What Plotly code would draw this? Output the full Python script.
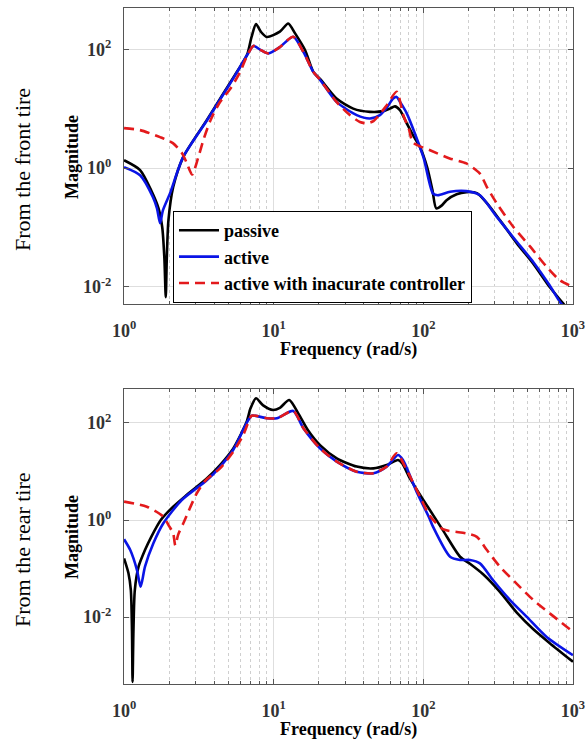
import plotly.graph_objects as go

# ---------------- data: top panel (from the front tire) ----------------
top_passive_f = [1.0, 1.28, 1.52, 1.70, 1.80, 1.86, 1.90, 1.93, 1.98, 2.13, 2.49, 3.57, 4.5, 5.5, 6.63,
                 7.1, 7.62, 8.2, 9.0, 11.0, 12.5, 13.9, 16.2, 18.4, 20.4, 26.3, 34.0, 44.0, 53.9, 59.8,
                 64.6, 69.8, 77.5, 85.3, 95, 106, 115, 122, 133, 143, 167, 194, 228, 266, 325, 422,
                 540, 701, 857, 1000]
top_passive_m = [1.36, 0.93, 0.42, 0.21, 0.10, 0.03, 0.0067, 0.03, 0.133, 0.48, 1.55, 6.45, 16.5, 37, 80.5,
                 160, 268, 200, 163, 200, 275, 187, 98, 42, 32, 14.9, 10.1, 8.9, 9.15, 10.1,
                 11.0, 9.5, 5.7, 3.6, 2.26, 1.04, 0.43, 0.21, 0.236, 0.289, 0.364, 0.394, 0.379, 0.257, 0.133, 0.054,
                 0.025, 0.0098, 0.0053, 0.0032]

top_active_f = [1.0, 1.28, 1.56, 1.66, 1.74, 1.82, 2.03, 2.48, 3.57, 4.5, 5.5, 6.63, 7.32, 8.2, 9.22,
                11.0, 13.5, 15.8, 18.4, 20.4, 26.3, 35.9, 44, 51.3, 57, 62.9, 66.3, 70, 77.5, 100,
                116, 125, 151, 194, 239, 310, 420, 544, 700, 817, 1000]
top_active_m = [1.04, 0.76, 0.324, 0.21, 0.118, 0.196, 0.379, 1.53, 6.3, 16, 36, 80, 115, 98, 86,
                110, 164, 91, 42, 31, 13.1, 7.83, 6.88, 7.83, 10.5, 14.9, 15.9, 13, 8.4, 1.55,
                0.374, 0.35, 0.40, 0.41, 0.35, 0.151, 0.058, 0.026, 0.0105, 0.0056, 0.003]

top_inacc_f = [1.0, 1.28, 1.74, 2.12, 2.44, 2.63, 2.85, 3.12, 3.42, 3.81, 4.38, 5.11, 5.96, 6.63, 7.32,
               8.2, 9.22, 11.0, 13.5, 15.8, 18.4, 20.4, 26.3, 32, 37.7, 42, 46.4, 57, 66.3, 73.5,
               80, 85.5, 111, 150, 194, 239, 266, 310, 400, 520, 667, 817, 1000]
top_inacc_m = [4.73, 4.38, 3.33, 2.64, 1.79, 1.21, 0.78, 1.47, 3.2, 6.7, 13, 21.5, 41.6, 78, 115,
               98, 86, 110, 164, 91, 42, 31, 13.1, 8.0, 6.0, 5.7, 6.2, 11.5, 19.4, 7.8,
               4.6, 2.7, 2.0, 1.46, 1.2, 0.81, 0.48, 0.254, 0.102, 0.047, 0.0217, 0.0129, 0.01]

# ---------------- data: bottom panel (from the rear tire) ----------------
bot_passive_f = [1.0, 1.07, 1.11, 1.13, 1.14, 1.155, 1.18, 1.25, 1.38, 1.52, 1.76, 2.13, 2.62, 3.57, 4.38,
                 5.37, 6.6, 7.0, 7.62, 8.5, 9.9, 11.0, 12.7, 14.6, 17, 20.4, 26.4, 35.9, 46.4, 56.9,
                 67.8, 72, 81.4, 100, 110, 135, 176, 205, 251, 325, 420, 544, 700, 1000]
bot_passive_m = [0.162, 0.08, 0.036, 0.005, 0.00046, 0.005, 0.036, 0.109, 0.24, 0.45, 1.0, 1.88, 3.28, 7.2, 13.6,
                 30, 106, 200, 323, 230, 185, 205, 298, 158, 70, 35, 18.7, 12.6, 11.6, 13.6,
                 17.3, 15, 7.2, 2.58, 1.65, 0.62, 0.175, 0.125, 0.076, 0.033, 0.0125, 0.0056, 0.0029, 0.0012]

bot_active_f = [1.0, 1.10, 1.22, 1.29, 1.38, 1.57, 1.83, 2.43, 3.57, 4.38, 5.37, 6.6, 7.13, 9.0, 10.5,
                13.5, 15.8, 20.4, 26.4, 35.9, 46.4, 56.9, 67.8, 73.1, 90.3, 110, 116, 151, 176, 205,
                239, 292, 380, 490, 667, 1000]
bot_active_m = [0.40, 0.24, 0.093, 0.042, 0.109, 0.33, 0.855, 2.58, 6.6, 12.5, 28, 100, 141, 125, 125,
                177, 78, 30, 16, 9.9, 9.2, 12.6, 21.9, 17.3, 3.8, 1.08, 0.73, 0.175, 0.15, 0.15,
                0.128, 0.058, 0.0224, 0.0102, 0.0039, 0.00164]

bot_inacc_f = [1.0, 1.42, 1.83, 2.0, 2.13, 2.2, 2.3, 2.49, 3.06, 3.5, 4.38, 5.37, 6.26, 6.7, 7.13,
               9.0, 10.5, 13.5, 15.8, 20.4, 26.4, 35.9, 46.4, 56.9, 66.3, 77.5, 95, 110, 135, 194,
               228, 266, 325, 420, 544, 700, 1000]
bot_inacc_m = [2.39, 1.88, 1.17, 0.75, 0.53, 0.30, 0.5, 0.855, 3.55, 6.5, 11.6, 25.5, 56.7, 95, 141,
               125, 125, 177, 78, 30, 16, 9.9, 9.2, 12.6, 23.7, 10.7, 3.03, 1.25, 0.65, 0.53,
               0.45, 0.24, 0.109, 0.049, 0.0224, 0.0119, 0.005]

series_names = ["passive", "active", "active with inacurate controller"]
x_tick_vals = [1, 10, 100, 1000]
x_tick_text = ["10<sup>0</sup>", "10<sup>1</sup>", "10<sup>2</sup>", "10<sup>3</sup>"]
x_minor_vals = [2, 3, 4, 5, 6, 7, 8, 9, 20, 30, 40, 50, 60, 70, 80, 90,
                200, 300, 400, 500, 600, 700, 800, 900]
y_tick_vals = [0.01, 1, 100]
y_tick_text = ["10<sup>-2</sup>", "10<sup>0</sup>", "10<sup>2</sup>"]

FONT = "Liberation Serif"
BLACK = "#000000"
BLUE = "#0a14e6"
RED = "#e31a1c"

fig = go.Figure()


def add(f, m, name, color, dash, xa, ya, show):
    fig.add_trace(go.Scatter(x=f, y=m, mode="lines", name=name,
                             line=dict(color=color, width=2.6, dash=dash, shape="spline", smoothing=0.7),
                             xaxis=xa, yaxis=ya, showlegend=show))


add(top_passive_f, top_passive_m, series_names[0], BLACK, "solid", "x", "y", True)
add(top_active_f, top_active_m, series_names[1], BLUE, "solid", "x", "y", True)
add(top_inacc_f, top_inacc_m, series_names[2], RED, "10px,6px", "x", "y", True)
add(bot_passive_f, bot_passive_m, series_names[0], BLACK, "solid", "x2", "y2", False)
add(bot_active_f, bot_active_m, series_names[1], BLUE, "solid", "x2", "y2", False)
add(bot_inacc_f, bot_inacc_m, series_names[2], RED, "10px,6px", "x2", "y2", False)

W, H = 585, 742
xdom = [124 / W, 573 / W]
top_dom = [1 - 304 / H, 1 - 8 / H]
bot_dom = [1 - 684 / H, 1 - 389 / H]

tickfont = dict(family=FONT, size=18, color="#333333", weight="bold")

xcommon = dict(type="log", range=[-0.0004, 3.0004], domain=xdom, tickvals=x_tick_vals, ticktext=x_tick_text,
               ticks="inside", ticklen=5, tickcolor="#555555", showline=True, mirror="ticks",
               linecolor="#555555", linewidth=1, showgrid=True, gridcolor="#dedede", gridwidth=1,
               zeroline=False, tickfont=tickfont, ticklabelstandoff=10, ticklabeloverflow="allow",
               automargin=False,
               minor=dict(tickvals=x_minor_vals, ticks="inside", ticklen=3, tickcolor="#555555",
                          showgrid=True, gridcolor="#cfcfcf", griddash="dot", gridwidth=1))
ycommon = dict(type="log", tickvals=y_tick_vals, ticktext=y_tick_text,
               ticks="inside", ticklen=5, tickcolor="#555555", showline=True, mirror="ticks",
               linecolor="#555555", linewidth=1, showgrid=True, gridcolor="#dedede", gridwidth=1,
               zeroline=False, tickfont=tickfont, ticklabelstandoff=8, automargin=False)

fig.update_layout(
    width=W, height=H, margin=dict(l=0, r=0, t=0, b=0, autoexpand=False),
    paper_bgcolor="white", plot_bgcolor="white",
    xaxis=dict(**xcommon, anchor="y"),
    yaxis=dict(**ycommon, domain=top_dom, range=[-2.29, 2.70], anchor="x"),
    xaxis2=dict(**xcommon, anchor="y2"),
    yaxis2=dict(**ycommon, domain=bot_dom, range=[-3.38, 2.70], anchor="x2"),
    legend=dict(x=173 / W, y=1 - 257 / H, xanchor="left", yanchor="middle",
                bgcolor="white", bordercolor="#000000", borderwidth=1,
                font=dict(family=FONT, size=18, color="#000000", weight="bold"),
                itemwidth=40, tracegroupgap=0),
    showlegend=True,
)

ann = []
def text(x, y, s, size, bold, angle=0):
    ann.append(dict(x=x / W, y=1 - y / H, xref="paper", yref="paper", text=s, showarrow=False,
                    textangle=angle, xanchor="center", yanchor="middle",
                    font=dict(family=FONT, size=size, color="#000000",
                              weight="bold" if bold else "normal")))

text(348, 349, "Frequency (rad/s)", 18, True)
text(348, 729, "Frequency (rad/s)", 18, True)
text(72, 157, "Magnitude", 18, True, -90)
text(72, 537, "Magnitude", 18, True, -90)
text(22, 170, "From the front tire", 22, False, -90)
text(22, 550, "From the rear tire", 22, False, -90)
fig.update_layout(annotations=ann)

fig.write_html("out.html")
